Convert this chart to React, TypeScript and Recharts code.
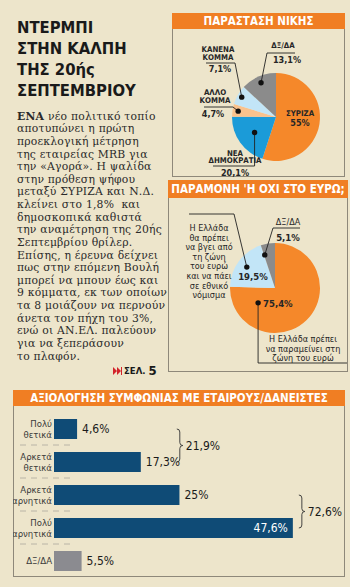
import React from "react";
import { PieChart, Pie, Cell, BarChart, Bar, XAxis, YAxis } from "recharts";

// Παράσταση νίκης
const WIN_LABELS = [["ΣΥΡΙΖΑ"], ["ΝΕΑ", "ΔΗΜΟΚΡΑΤΙΑ"], ["ΑΛΛΟ", "ΚΟΜΜΑ"], ["ΚΑΝΕΝΑ", "ΚΟΜΜΑ"], ["ΔΞ/ΔΑ"]];
const WIN_VALUES = [55, 20.1, 4.7, 7.1, 13.1];

// Παραμονή ή όχι στο ευρώ
const EURO_LABELS = [
  ["Η Ελλάδα πρέπει", "να παραμείνει στη", "ζώνη του ευρώ"],
  ["Η Ελλάδα", "θα πρέπει", "να βγει από", "τη ζώνη", "του ευρώ", "και να πάει", "σε εθνικό", "νόμισμα"],
  ["ΔΞ/ΔΑ"],
];
const EURO_VALUES = [75.4, 19.5, 5.1];

// Αξιολόγηση συμφωνίας
const DEAL_CATEGORIES = ["Πολύ\nθετικά", "Αρκετά\nθετικά", "Αρκετά\nαρνητικά", "Πολύ\nαρνητικά", "ΔΞ/ΔΑ"];
const DEAL_VALUES = [4.6, 17.3, 25, 47.6, 5.5];
const DEAL_GROUPS = [
  { from: 0, to: 1, total: 21.9 },
  { from: 2, to: 3, total: 72.6 },
];

const STORY = [
  "νέο πολιτικό τοπίο",
  "αποτυπώνει η πρώτη",
  "προεκλογική μέτρηση",
  "της εταιρείας MRB για",
  "την «Αγορά». Η ψαλίδα",
  "στην πρόθεση ψήφου",
  "μεταξύ ΣΥΡΙΖΑ και Ν.Δ.",
  "κλείνει στο 1,8%  και",
  "δημοσκοπικά καθιστά",
  "την αναμέτρηση της 20ής",
  "Σεπτεμβρίου θρίλερ.",
  "Επίσης, η έρευνα δείχνει",
  "πως στην επόμενη Βουλή",
  "μπορεί να μπουν έως και",
  "9 κόμματα, εκ των οποίων",
  "τα 8 μοιάζουν να περνούν",
  "άνετα τον πήχη του 3%,",
  "ενώ οι ΑΝ.ΕΛ. παλεύουν",
  "για να ξεπεράσουν",
  "το πλαφόν.",
];

const NARROW = "'Liberation Sans Narrow', 'DejaVu Sans Condensed', Roboto, sans-serif";
const SERIF = "'DejaVu Serif', 'Liberation Serif', serif";
const BG = "#ede5cb";
const ORANGE = "#f07e23";
const BORDER = "#8e887a";
const INK = "#262626";

const WIN_COLORS = ["#f5882a", "#1b9bd8", "#f9c28d", "#c2e5f7", "#8b8b8b"];
const EURO_COLORS = ["#f5882a", "#c2e5f7", "#8b8b8b"];
const DEAL_COLORS = ["#0f4b76", "#0f4b76", "#0f4b76", "#0f4b76", "#8b8b90"];

const RAD = Math.PI / 180;
const pct = (v: number) => String(v).replace(".", ",") + "%";

type Anchor = "start" | "middle" | "end";
type PieLayout = {
  dot?: { r: number; shift?: number };
  path?: [number | null, number][];
  text: { x: number; y: number; step?: number; anchor?: Anchor };
  val: { x: number; y: number; anchor?: Anchor };
};

// label positions relative to the pie centre
const WIN_LAYOUT: PieLayout[] = [
  { text: { x: 24, y: -4 }, val: { x: 24, y: 6 } },
  { dot: { r: 0.6 }, path: [[null, 49], [-63, 49]], text: { x: -41, y: 36, step: 7.6 }, val: { x: -41, y: 56 } },
  { dot: { r: 0.87 }, path: [[-43, -10], [-72, -10]], text: { x: -61, y: -25, step: 8.4 }, val: { x: -63, y: -3 } },
  { dot: { r: 0.9 }, path: [[-41, -54], [-70, -54]], text: { x: -58, y: -68, step: 8.4 }, val: { x: -56, y: -48 } },
  { dot: { r: 0.85 }, path: [[-9, -64], [19, -64]], text: { x: 7, y: -72 }, val: { x: 11, y: -57 } },
];

const EURO_LAYOUT: PieLayout[] = [
  { dot: { r: 0.5, shift: 93 }, path: [[null, 75], [72, 75]], text: { x: 28, y: 51, step: 9.5 }, val: { x: -12, y: 15, anchor: "start" } },
  { dot: { r: 0.78 }, path: [[-41, -74], [-86, -74]], text: { x: -66, y: -60, step: 9.6 }, val: { x: -22, y: -12 } },
  { dot: { r: 0.77, shift: -8 }, path: [[-2, -60], [25, -60]], text: { x: 13, y: -66 }, val: { x: 13, y: -51 } },
];

function makePieLabel(labels: string[][], values: number[], layout: PieLayout[], textSize: number, textBold: boolean, valSize: number) {
  return (p: any) => {
    const L = layout[p.index];
    const cx = p.cx;
    const cy = p.cy;
    let leader = null;
    if (L.dot) {
      const a = (p.midAngle - (L.dot.shift || 0)) * RAD;
      const dx = cx + L.dot.r * p.outerRadius * Math.cos(a);
      const dy = cy - L.dot.r * p.outerRadius * Math.sin(a);
      const pts = [[dx, dy], ...(L.path || []).map(([x, y]) => [x === null ? dx : cx + x, cy + y])];
      leader = (
        <g>
          <polyline points={pts.map((q) => q.join(",")).join(" ")} fill="none" stroke="#222" strokeWidth={0.9} />
          <circle cx={dx} cy={dy} r={2.7} fill="#111" />
        </g>
      );
    }
    return (
      <g key={`lab-${p.index}`}>
        {leader}
        {labels[p.index].map((t, i) => (
          <text
            key={i}
            x={cx + L.text.x}
            y={cy + L.text.y + i * (L.text.step || 8)}
            textAnchor={L.text.anchor || "middle"}
            dominantBaseline="central"
            fontFamily={NARROW}
            fontSize={textSize}
            fontWeight={textBold ? 700 : 400}
            fill={INK}
          >
            {t}
          </text>
        ))}
        <text
          x={cx + L.val.x}
          y={cy + L.val.y}
          textAnchor={L.val.anchor || "middle"}
          dominantBaseline="central"
          fontFamily={NARROW}
          fontSize={valSize}
          fontWeight={700}
          fill={INK}
        >
          {pct(values[p.index])}
        </text>
      </g>
    );
  };
}

// bottom chart geometry
const DEAL_W = 332;
const DEAL_H = 171;
const DEAL_MARGIN = { top: 6, right: 10, bottom: 0, left: 0 };
const DEAL_BAND = (DEAL_H - DEAL_MARGIN.top - DEAL_MARGIN.bottom) / DEAL_CATEGORIES.length;
const DEAL_LABEL_INSIDE = [false, false, false, true, false];
const DEAL_BRACE_GAP = [36, 6];

function DealTick(props: any) {
  const { x, y, payload, index } = props;
  const lines = String(payload.value).split("\n");
  const y0 = lines.length > 1 ? y - 5.5 : y;
  return (
    <g>
      {lines.map((t, i) => (
        <text key={i} x={x + 6} y={y0 + i * 11} textAnchor="end" dominantBaseline="central" fontFamily={NARROW} fontSize={9.5} fill="#3a3a3a">
          {t}
        </text>
      ))}
      {index < DEAL_CATEGORIES.length - 1 && (
        <line x1={7} x2={57} y1={y + DEAL_BAND / 2} y2={y + DEAL_BAND / 2} stroke="#b9b4a6" strokeWidth={1} strokeDasharray="6 5" />
      )}
    </g>
  );
}

function DealBar(props: any) {
  const { x, y, width, height, index, payload } = props;
  const cyBar = y + height / 2;
  const inside = DEAL_LABEL_INSIDE[index];
  const gi = DEAL_GROUPS.findIndex((g) => g.to === index);
  let brace = null;
  if (gi >= 0) {
    const g = DEAL_GROUPS[gi];
    const y1 = cyBar - DEAL_BAND * (g.to - g.from);
    const y2 = cyBar;
    const m = (y1 + y2) / 2;
    const bx = x + width + DEAL_BRACE_GAP[gi];
    const d = `M${bx} ${y1} Q${bx + 3} ${y1} ${bx + 3} ${y1 + 3} L${bx + 3} ${m - 3} Q${bx + 3} ${m} ${bx + 6} ${m} Q${bx + 3} ${m} ${bx + 3} ${m + 3} L${bx + 3} ${y2 - 3} Q${bx + 3} ${y2} ${bx} ${y2}`;
    brace = (
      <g>
        <path d={d} fill="none" stroke="#333" strokeWidth={0.9} />
        <text x={bx + 9} y={m} dominantBaseline="central" fontFamily={NARROW} fontSize={12} fill="#1a1a1a">
          {pct(g.total)}
        </text>
      </g>
    );
  }
  return (
    <g>
      <rect x={x} y={y} width={width} height={height} fill={DEAL_COLORS[index]} />
      <text
        x={inside ? x + width - 5 : x + width + 5}
        y={cyBar}
        textAnchor={inside ? "end" : "start"}
        dominantBaseline="central"
        fontFamily={NARROW}
        fontSize={12}
        fill={inside ? "#ffffff" : "#1a1a1a"}
      >
        {pct(payload.value)}
      </text>
      {brace}
    </g>
  );
}

function Header({ text, height }: { text: string; height: number }) {
  return (
    <div
      style={{
        position: "absolute",
        left: -1,
        right: -1,
        top: -1,
        height,
        background: ORANGE,
        color: "#fff",
        fontFamily: NARROW,
        fontWeight: 700,
        fontSize: 11.5,
        lineHeight: `${height}px`,
        textAlign: "center",
        whiteSpace: "nowrap",
      }}
    >
      {text}
    </div>
  );
}

export default function App() {
  const winData = WIN_VALUES.map((v, i) => ({ name: WIN_LABELS[i].join(" "), value: v }));
  const euroData = EURO_VALUES.map((v, i) => ({ name: EURO_LABELS[i].join(" "), value: v }));
  const dealData = DEAL_VALUES.map((v, i) => ({ name: DEAL_CATEGORIES[i], value: v }));

  return (
    <div style={{ position: "relative", width: 350, height: 587, background: BG, overflow: "hidden" }}>
      <style>{`body{margin:0}`}</style>

      {/* title */}
      <div
        style={{
          position: "absolute",
          left: 17,
          top: 16.5,
          fontFamily: NARROW,
          fontWeight: 700,
          fontSize: 16.5,
          lineHeight: "21px",
          color: "#1a1a1a",
          whiteSpace: "nowrap",
        }}
      >
        <div>ΝΤΕΡΜΠΙ</div>
        <div>ΣΤΗΝ ΚΑΛΠΗ</div>
        <div>ΤΗΣ 20ής</div>
        <div>ΣΕΠΤΕΜΒΡΙΟΥ</div>
      </div>

      {/* story */}
      <div
        style={{
          position: "absolute",
          left: 17,
          top: 110.7,
          fontFamily: SERIF,
          fontSize: 10.8,
          letterSpacing: 0.2,
          lineHeight: "12.63px",
          color: "#2a2a2a",
          whiteSpace: "pre",
        }}
      >
        {STORY.map((s, i) => (
          <div key={i}>
            {i === 0 && <b>ΕΝΑ </b>}
            {s}
          </div>
        ))}
      </div>

      {/* page ref */}
      <div style={{ position: "absolute", left: 113, top: 363, display: "flex", alignItems: "center", fontFamily: NARROW, fontWeight: 700, color: "#1a1a1a" }}>
        <svg width={9} height={8} style={{ marginRight: 2 }}>
          <path d="M0 0 L4 4 L0 8 Z M4 0 L8 4 L4 8 Z" fill="#d3232b" />
          <rect x={8} y={0} width={1} height={8} fill="#d3232b" />
        </svg>
        <span style={{ fontSize: 9.5 }}>ΣΕΛ.</span>
        <span style={{ fontSize: 13, marginLeft: 3 }}>5</span>
      </div>

      {/* box 1 */}
      <div style={{ position: "absolute", left: 172, top: 13, width: 173, height: 164, border: `1px solid ${BORDER}`, boxSizing: "border-box" }}>
        <Header text="ΠΑΡΑΣΤΑΣΗ ΝΙΚΗΣ" height={16} />
      </div>
      <div style={{ position: "absolute", left: 172, top: 28 }}>
        <PieChart width={173} height={149}>
          <Pie
            data={winData}
            dataKey="value"
            cx={99}
            cy={84}
            outerRadius={44}
            startAngle={90}
            endAngle={-270}
            stroke="none"
            labelLine={false}
            label={makePieLabel(WIN_LABELS, WIN_VALUES, WIN_LAYOUT, 7.8, true, 9)}
            isAnimationActive={false}
          >
            {winData.map((_, i) => (
              <Cell key={i} fill={WIN_COLORS[i]} />
            ))}
          </Pie>
        </PieChart>
      </div>

      {/* box 2 */}
      <div style={{ position: "absolute", left: 168, top: 180, width: 180, height: 192, border: `1px solid ${BORDER}`, boxSizing: "border-box" }}>
        <Header text="ΠΑΡΑΜΟΝΗ 'Η ΟΧΙ ΣΤΟ ΕΥΡΩ;" height={18} />
      </div>
      <div style={{ position: "absolute", left: 168, top: 197 }}>
        <PieChart width={180} height={174}>
          <Pie
            data={euroData}
            dataKey="value"
            cx={102}
            cy={86}
            outerRadius={45}
            startAngle={90}
            endAngle={-270}
            stroke="none"
            labelLine={false}
            label={makePieLabel(EURO_LABELS, EURO_VALUES, EURO_LAYOUT, 9, false, 9.5)}
            isAnimationActive={false}
          >
            {euroData.map((_, i) => (
              <Cell key={i} fill={EURO_COLORS[i]} />
            ))}
          </Pie>
        </PieChart>
      </div>

      {/* box 3 */}
      <div style={{ position: "absolute", left: 13, top: 390, width: 332, height: 187, border: `1px solid ${BORDER}`, boxSizing: "border-box" }}>
        <Header text="ΑΞΙΟΛΟΓΗΣΗ ΣΥΜΦΩΝΙΑΣ ΜΕ ΕΤΑΙΡΟΥΣ/ΔΑΝΕΙΣΤΕΣ" height={16} />
      </div>
      <div style={{ position: "absolute", left: 13, top: 406 }}>
        <BarChart width={DEAL_W} height={DEAL_H} data={dealData} layout="vertical" margin={DEAL_MARGIN}>
          <XAxis type="number" domain={[0, 56]} hide />
          <YAxis type="category" dataKey="name" width={41} axisLine={false} tickLine={false} interval={0} tick={<DealTick />} />
          <Bar dataKey="value" barSize={20} shape={<DealBar />} isAnimationActive={false} />
        </BarChart>
      </div>
    </div>
  );
}
